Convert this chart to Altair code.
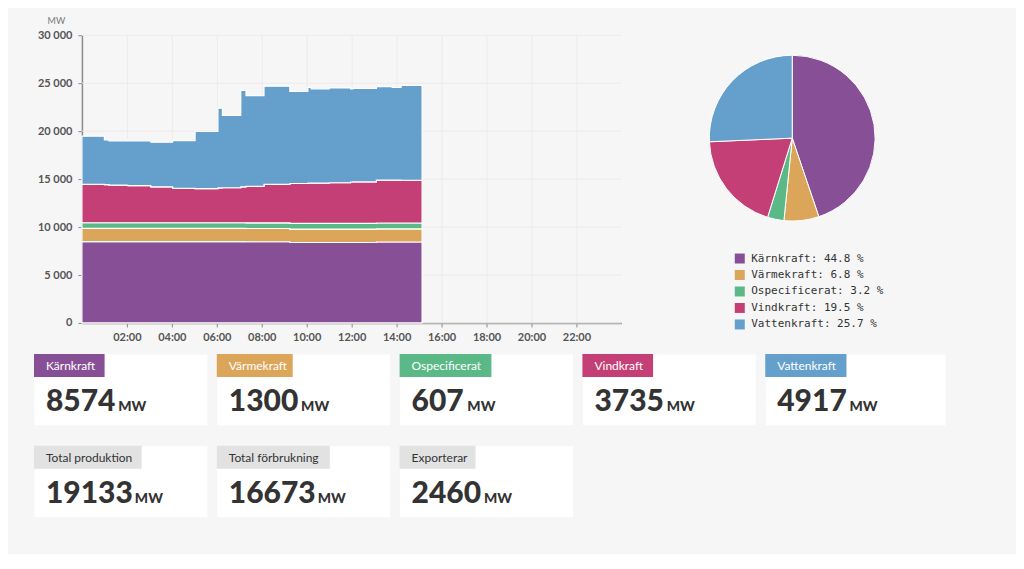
import altair as alt
import pandas as pd

# ---------------- data ----------------
times = ["00:00", "01:00", "01:12", "02:00", "02:03", "03:04", "04:02", "04:05",
         "05:02", "06:03", "06:15", "07:04", "07:18", "08:06", "09:15", "10:03",
         "10:12", "11:00", "11:57", "12:03", "13:06", "13:48", "14:12", "15:08"]

karnkraft = [8480, 8480, 8480, 8480, 8480, 8480, 8480, 8480, 8480, 8480, 8480, 8480,
             8470, 8470, 8390, 8390, 8390, 8390, 8390, 8390, 8440, 8440, 8440, 8440]
varmekraft = [1380, 1380, 1380, 1380, 1380, 1380, 1380, 1380, 1380, 1380, 1380, 1380,
              1380, 1380, 1400, 1400, 1400, 1400, 1400, 1400, 1380, 1380, 1380, 1380]
ospecificerat = [590, 590, 590, 590, 590, 590, 590, 590, 590, 590, 590, 590,
                 590, 590, 590, 590, 590, 590, 590, 590, 600, 600, 600, 600]
vindkraft = [4010, 3970, 3930, 3890, 3880, 3740, 3600, 3590, 3560, 3630, 3650, 3740,
             3810, 4020, 4160, 4200, 4210, 4240, 4320, 4330, 4480, 4480, 4460, 4460]
vattenkraft = [5020, 4680, 4610, 4710, 4660, 4665, 5010, 4980, 5955, 8320, 7535, 10050,
               9450, 10230, 9595, 9970, 9820, 9890, 9710, 9735, 9750, 9650, 9880, 9880]

names = ["Kärnkraft", "Värmekraft", "Ospecificerat", "Vindkraft", "Vattenkraft"]
colors = ["#875096", "#dba65a", "#5bb887", "#c43f76", "#64a0cb"]
pie_pct = [44.8, 6.8, 3.2, 19.5, 25.7]

card_values = [8574, 1300, 607, 3735, 4917]
total_labels = ["Total produktion", "Total förbrukning", "Exporterar"]
total_values = [19133, 16673, 2460]

x_tick_labels = ["02:00", "04:00", "06:00", "08:00", "10:00", "12:00",
                 "14:00", "16:00", "18:00", "20:00", "22:00"]
y_ticks = [0, 5000, 10000, 15000, 20000, 25000, 30000]

series = [karnkraft, varmekraft, ospecificerat, vindkraft, vattenkraft]

# ---------------- area chart ----------------
rows = []
for i, (n, s) in enumerate(zip(names, series)):
    for t, v in zip(times, s):
        rows.append({"time": f"2024-01-01T{t}:00", "source": n, "idx": i, "mw": v})
df = pd.DataFrame(rows)

x_vals = [alt.DateTime(year=2024, month=1, date=1, hours=int(l[:2]), minutes=int(l[3:]))
          for l in x_tick_labels]

AXIS_ROOM = 48     # room for the y-axis labels inside the chart's own box
PLOT_W = 540

y_scale = alt.Scale(domain=[0, 30000], nice=False)
y_axis = alt.Axis(values=y_ticks, offset=-AXIS_ROOM,
                  labelExpr="replace(format(datum.value, ','), ',', ' ')",
                  title="MW", titleAngle=0, titleX=-26, titleY=-15,
                  titleAlign="center", titleBaseline="middle",
                  titleFont="Lato", titleFontSize=9, titleFontWeight="normal",
                  titleColor="#777",
                  labelFont="Lato", labelFontSize=11, labelFontWeight="bold",
                  labelColor="#555", domainColor="#8a8a8a", domainWidth=1.5,
                  tickColor="#8a8a8a", tickSize=4, labelPadding=6,
                  grid=False)

area = alt.Chart(df).mark_area(
    interpolate="step-after", stroke="white", strokeWidth=1.2
).encode(
    x=alt.X("time:T",
            scale=alt.Scale(domain=[alt.DateTime(year=2024, month=1, date=1, hours=0),
                                    alt.DateTime(year=2024, month=1, date=2, hours=0)],
                            range=[AXIS_ROOM, AXIS_ROOM + PLOT_W]),
            axis=alt.Axis(values=x_vals, format="%H:%M", title=None,
                          labelFont="Lato", labelFontSize=11, labelFontWeight="bold",
                          labelColor="#555", domainColor="#8a8a8a", domainWidth=1.5,
                          tickColor="#8a8a8a", tickSize=4, labelPadding=5,
                          grid=True, gridColor="#ebebeb")),
    y=alt.Y("mw:Q", stack="zero", scale=y_scale, axis=y_axis),
    color=alt.Color("source:N", scale=alt.Scale(domain=names, range=colors), legend=None),
    order=alt.Order("idx:Q", sort="ascending"),
)

grid = alt.Chart(pd.DataFrame({"mw": y_ticks})).mark_rule(
    color="#ebebeb", strokeWidth=1
).encode(
    y=alt.Y("mw:Q", scale=y_scale, axis=y_axis),
    x=alt.value(AXIS_ROOM), x2=alt.value(AXIS_ROOM + PLOT_W),
)

area_chart = alt.layer(grid, area).properties(
    width=AXIS_ROOM + PLOT_W, height=288,
    view=alt.ViewBackground(stroke="transparent", strokeWidth=0))

# ---------------- pie chart ----------------
pie_labels = [f"{n}: {p} %" for n, p in zip(names, pie_pct)]
pie_df = pd.DataFrame({"label": pie_labels, "pct": pie_pct, "idx": list(range(len(names)))})

pie = alt.Chart(pie_df).mark_arc(stroke="white", strokeWidth=1, radius=83).encode(
    theta=alt.Theta("pct:Q", stack=True),
    order=alt.Order("idx:Q", sort="ascending"),
    color=alt.Color("label:N",
                    scale=alt.Scale(domain=pie_labels, range=colors),
                    legend=alt.Legend(orient="none", legendX=25, legendY=218, title=None,
                                      symbolType="square", symbolSize=100,
                                      symbolStrokeWidth=0, symbolOpacity=1,
                                      labelFont="DejaVu Sans Mono", labelFontSize=11,
                                      labelColor="#333", labelOffset=6,
                                      rowPadding=4.5, padding=0)),
).properties(width=166, height=206,
             view=alt.ViewBackground(stroke="transparent", strokeWidth=0))

top = alt.hconcat(area_chart, pie, spacing=85).resolve_scale(color="independent")


# ---------------- cards ----------------
def card(label, value, tag_color, text_color, width):
    d = pd.DataFrame([{"label": label, "value": str(value), "unit": "MW"}])
    base = alt.Chart(d)
    tag_w = 23 + 5.3 * len(label)
    num_w = 16.6 * len(str(value))
    tag = base.mark_rect(color=tag_color).encode(
        x=alt.value(0), x2=alt.value(tag_w), y=alt.value(0), y2=alt.value(23))
    tag_text = base.mark_text(align="left", baseline="middle", font="Lato",
                              fontSize=12, color=text_color).encode(
        x=alt.value(12), y=alt.value(12), text="label:N")
    num = base.mark_text(align="left", baseline="alphabetic", font="Lato",
                         fontSize=30, fontWeight=900, color="#333").encode(
        x=alt.value(12), y=alt.value(57), text="value:N")
    unit = base.mark_text(align="left", baseline="alphabetic", font="Lato",
                          fontSize=14, fontWeight=900, color="#333").encode(
        x=alt.value(12 + num_w + 6), y=alt.value(57), text="unit:N")
    return alt.layer(tag, tag_text, num, unit).properties(
        width=width, height=71,
        view=alt.ViewBackground(fill="white", stroke="transparent"))


card_widths = [173, 173, 173, 173, 180]
row1 = alt.hconcat(*[card(n, v, c, "white", w)
                     for n, v, c, w in zip(names, card_values, colors, card_widths)],
                   spacing=8)
row2 = alt.hconcat(*[card(n, v, "#e2e2e2", "#333", 173)
                     for n, v in zip(total_labels, total_values)],
                   spacing=8)
bottom = alt.vconcat(row1, row2, spacing=19)

chart = alt.vconcat(top, bottom, spacing=10).properties(
    padding={"left": 25, "top": 8, "right": 70, "bottom": 36},
    background="#f6f6f6",
).configure_view(stroke="transparent").configure(font="Lato")

chart.save("out.html", embed_options={"renderer": "svg", "actions": False})
